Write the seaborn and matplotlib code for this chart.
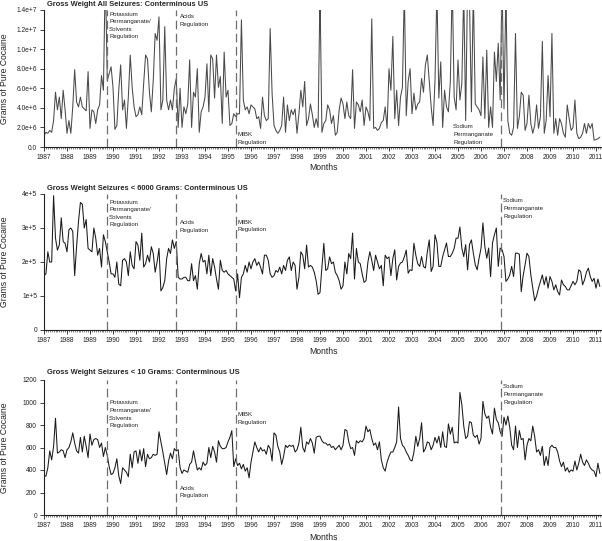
"""Monthly grams of pure cocaine seized, conterminous US, 1987-2011 (3 panels)."""
import matplotlib

matplotlib.use("Agg")
import matplotlib.pyplot as plt
import numpy as np
import pandas as pd
import seaborn as sns
from matplotlib.ticker import FixedLocator, MultipleLocator

# --- Data (monthly from Jan 1987) -------------------------------------------
ALL_SEIZURES_M = [  # millions of grams; values > 14 are clipped spikes
    1.2, 1.5, 1.4, 1.7, 1.5, 2.7, 5.6, 3.8, 5.1, 2.9, 5.8, 3.8,
    1.4, 2.7, 1.4, 4.1, 7.9, 4.6, 4.1, 5.1, 4.1, 3.9, 3.7, 7.7,
    1.9, 3.8, 3.6, 2.4, 3.8, 4.3, 7.3, 5.8, 18.0, 6.8, 7.5, 8.2,
    6.1, 1.8, 2.2, 5.8, 8.4, 3.8, 4.8, 1.9, 5.1, 9.4, 6.1, 4.1,
    3.1, 3.3, 4.1, 3.3, 6.5, 9.4, 9.0, 5.6, 3.6, 6.8, 11.6, 10.9,
    13.3, 3.8, 4.8, 12.3, 4.8, 3.8, 4.8, 3.8, 6.0, 7.0, 2.0, 6.0,
    2.0, 4.1, 3.4, 4.4, 8.9, 2.0, 5.6, 5.1, 8.0, 1.5, 3.6, 4.1,
    5.1, 8.5, 3.6, 9.4, 9.0, 5.0, 9.4, 6.1, 7.2, 2.4, 9.7, 5.1,
    5.8, 2.2, 2.4, 3.4, 3.1, 3.4, 3.4, 13.0, 4.8, 3.8, 4.1, 3.4,
    4.3, 4.1, 3.9, 2.9, 3.1, 1.9, 5.1, 3.2, 2.7, 2.9, 12.1, 5.5,
    2.2, 1.7, 1.4, 1.7, 2.2, 5.1, 1.5, 4.3, 2.7, 3.8, 3.3, 3.9,
    1.4, 3.4, 5.8, 4.1, 6.7, 2.2, 2.9, 4.4, 3.3, 2.0, 2.9, 2.0,
    16.0, 1.5, 2.4, 2.7, 4.3, 3.8, 2.4, 3.2, 1.2, 1.5, 3.8, 5.0,
    4.4, 2.9, 4.6, 3.2, 2.9, 7.9, 1.9, 4.6, 4.3, 3.6, 4.8, 2.2,
    4.1, 3.6, 2.7, 13.1, 1.9, 2.0, 1.7, 1.9, 2.5, 2.7, 4.1, 1.9,
    8.0, 5.8, 11.3, 2.9, 5.8, 2.2, 5.1, 6.1, 16.0, 3.2, 6.7, 8.0,
    3.4, 5.5, 3.8, 4.4, 4.6, 7.0, 5.6, 8.4, 9.4, 6.8, 4.1, 2.2,
    6.8, 16.0, 5.0, 8.7, 2.0, 5.8, 4.1, 3.6, 6.7, 17.0, 5.1, 3.8,
    8.9, 4.8, 6.5, 16.0, 2.7, 17.0, 15.0, 3.6, 16.0, 4.4, 4.1, 3.8,
    3.2, 9.2, 2.9, 9.9, 2.0, 4.1, 2.0, 9.7, 6.7, 10.6, 4.8, 17.0,
    3.9, 16.0, 2.7, 1.4, 1.2, 2.0, 11.6, 1.9, 3.1, 5.6, 5.3, 1.7,
    2.4, 5.3, 2.4, 1.4, 2.2, 4.3, 1.9, 3.1, 10.8, 1.4, 2.7, 7.3,
    3.1, 11.6, 1.4, 2.9, 1.2, 2.9, 2.4, 1.4, 1.0, 4.3, 2.9, 1.7,
    2.0, 4.8, 1.4, 0.85, 1.0, 1.4, 2.4, 1.4, 2.4, 1.9, 2.4, 0.7,
    0.75, 0.85, 1.0,
]

UNDER_6000_K = [  # thousands of grams
    160, 165, 230, 200, 200, 395, 270, 235, 250, 330, 260, 255,
    230, 295, 300, 290, 160, 245, 320, 375, 370, 300, 325, 240,
    235, 230, 300, 270, 220, 240, 185, 280, 260, 230, 200, 165,
    165, 155, 200, 135, 130, 205, 210, 200, 160, 230, 190, 180,
    260, 250, 205, 285, 185, 195, 220, 200, 245, 225, 170, 200,
    240, 115, 125, 145, 210, 240, 225, 265, 240, 260, 155, 150,
    150, 155, 155, 145, 145, 195, 145, 160, 120, 195, 225, 200,
    205, 165, 220, 160, 210, 185, 150, 120, 205, 175, 170, 175,
    165, 160, 155, 150, 115, 165, 95, 155, 165, 190, 170, 200,
    180, 200, 210, 190, 200, 185, 165, 220, 220, 205, 165, 155,
    160, 175, 170, 185, 165, 190, 175, 205, 215, 175, 200, 190,
    120, 155, 230, 220, 180, 250, 185, 190, 185, 170, 145, 105,
    110, 185, 255, 175, 180, 215, 195, 200, 170, 160, 145, 120,
    130, 200, 165, 225, 210, 285, 150, 240, 200, 195, 165, 140,
    145, 200, 230, 205, 175, 220, 200, 180, 190, 130, 220, 210,
    215, 160, 210, 236, 147, 187, 197, 200, 215, 235, 167, 177,
    175, 255, 220, 195, 187, 216, 187, 182, 230, 265, 172, 187,
    280, 258, 187, 187, 216, 236, 256, 216, 216, 226, 240, 270,
    270, 303, 241, 216, 251, 177, 251, 265, 226, 192, 177, 211,
    240, 315, 246, 211, 241, 157, 256, 280, 300, 187, 241, 236,
    216, 143, 150, 162, 187, 157, 226, 226, 223, 113, 160, 192,
    226, 216, 162, 123, 86, 100, 123, 143, 162, 133, 157, 123,
    157, 143, 118, 133, 113, 103, 147, 133, 128, 118, 118, 130,
    143, 133, 143, 177, 172, 133, 147, 170, 182, 157, 143, 152,
    123, 150, 128,
]

UNDER_10 = [  # grams
    350, 345, 420, 570, 490, 610, 860, 550, 560, 580, 570, 510,
    580, 600, 650, 730, 640, 570, 550, 690, 560, 700, 610, 510,
    720, 620, 670, 680, 670, 600, 640, 520, 600, 530, 430, 360,
    370, 420, 500, 350, 280, 420, 400, 380, 340, 540, 420, 560,
    570, 460, 580, 480, 590, 430, 540, 500, 510, 540, 530, 540,
    740, 650, 560, 460, 360, 480, 550, 500, 590, 570, 580, 420,
    370, 400, 390, 380, 450, 470, 570, 480, 400, 420, 400, 470,
    440, 460, 600, 510, 610, 560, 470, 660, 610, 590, 590, 600,
    650, 690, 750, 430, 500, 440, 460, 410, 450, 390, 420, 330,
    470, 560, 650, 600, 560, 600, 570, 580, 540, 620, 590, 480,
    730, 710, 610, 560, 450, 520, 620, 600, 620, 610, 620, 560,
    580, 640, 780, 600, 560, 650, 630, 680, 640, 550, 690, 700,
    700, 660, 640, 640, 620, 630, 600, 610, 580, 600, 620, 580,
    620, 760, 750, 650, 590, 600, 530, 660, 640, 660, 650, 680,
    790, 740, 760, 680, 620, 640, 580, 650, 490, 420, 390, 470,
    520, 560, 560, 600, 650, 960, 680, 620, 600, 560, 530, 490,
    480, 560, 700, 610, 680, 820, 560, 590, 650, 640, 580, 620,
    690, 640, 700, 600, 740, 610, 600, 810, 720, 780, 640, 650,
    640, 1090, 980, 790, 680, 700, 830, 820, 710, 690, 710, 630,
    680, 1010, 900, 860, 880, 780, 720, 950, 850, 820, 740, 700,
    870, 800, 880, 780, 620, 580, 790, 600, 750, 670, 680, 490,
    620, 680, 660, 790, 700, 560, 580, 530, 610, 440, 520, 440,
    600, 620, 600, 600, 560, 480, 430, 470, 390, 420, 380, 400,
    390, 480, 400, 460, 540, 470, 440, 490, 460, 420, 400, 390,
    340, 460, 370,
]

YEARS = list(range(1987, 2012))
POLICY_DATES = [1989.75, 1992.75, 1995.33, 2006.87]

PANEL_TITLES = [
    "Gross Weight All Seizures: Conterminous US",
    "Gross Weight Seizures < 6000 Grams: Conterminous US",
    "Gross Weight Seizures < 10 Grams: Conterminous US",
]
Y_TICKS = [
    [0, 2e6, 4e6, 6e6, 8e6, 1e7, 1.2e7, 1.4e7],
    [0, 1e5, 2e5, 3e5, 4e5],
    [0, 200, 400, 600, 800, 1000, 1200],
]
Y_TICK_LABELS = [
    ["0.0", "2.0e+6", "4.0e+6", "6.0e+6", "8.0e+6", "1.0e+7", "1.2e+7", "1.4e+7"],
    ["0", "1e+5", "2e+5", "3e+5", "4e+5"],
    ["0", "200", "400", "600", "800", "1000", "1200"],
]

# annotation text per panel: (x px, y px of first line, lines)
POT = ["Potassium", "Permanganate/", "Solvents", "Regulation"]
ACI = ["Acids", "Regulation"]
MIB = ["MIBK", "Regulation"]
SOD = ["Sodium", "Permanganate", "Regulation"]
NOTES = [
    [(109, 14, POT), (180, 17, ACI), (238, 135, MIB), (453, 127, SOD)],
    [(109, 202, POT), (180, 223, ACI), (238, 222, MIB), (503, 201, SOD)],
    [(109, 403, POT), (180, 488, ACI), (238, 415, MIB), (503, 387, SOD)],
]

# --- Figure ----------------------------------------------------------------
W, H = 602, 541
sns.set_style("ticks")
plt.rcParams["font.family"] = ["Liberation Sans", "DejaVu Sans"]

months = np.arange(len(UNDER_10))
df = pd.DataFrame({
    "t": 1987 + months / 12,
    "all": np.array(ALL_SEIZURES_M) * 1e6,
    "lt6000": np.array(UNDER_6000_K) * 1e3,
    "lt10": UNDER_10,
})

fig = plt.figure(figsize=(W / 100, H / 100), dpi=100)
# axes boxes in pixels: (top, bottom)
boxes = [(10, 147), (194, 330), (380, 515)]
cols = ["all", "lt6000", "lt10"]
line_cols = ["#4a4a4a", "#1a1a1a", "#1a1a1a"]
title_y = [4, 188, 372]
months_y = [168, 352, 538]

x_left, x_right = 44, 602
x_max = 1987 + (x_right - x_left) / 23.0

for i in range(3):
    top, bot = boxes[i]
    ax = fig.add_axes([x_left / W, 1 - bot / H, (x_right - x_left) / W, (bot - top) / H])
    sns.lineplot(data=df, x="t", y=cols[i], ax=ax, color=line_cols[i],
                 linewidth=0.75, estimator=None)
    for d in POLICY_DATES:
        ax.axvline(d, color="#6e6e6e", lw=0.9, ls=(0, (7, 3.5)))
    ax.set_xlim(1987, x_max)
    ax.set_ylim(Y_TICKS[i][0], Y_TICKS[i][-1])
    ax.xaxis.set_major_locator(FixedLocator(YEARS))
    ax.xaxis.set_minor_locator(MultipleLocator(1 / 12))
    ax.set_xticklabels([str(y) for y in YEARS])
    ax.yaxis.set_major_locator(FixedLocator(Y_TICKS[i]))
    ax.set_yticklabels(Y_TICK_LABELS[i])
    ax.tick_params(axis="both", which="major", labelsize=4.8, length=3,
                   width=0.6, pad=2, colors="#222222")
    ax.tick_params(axis="x", which="minor", length=1.4, width=0.4)
    ax.set_xlabel("")
    ax.set_ylabel("")
    sns.despine(ax=ax)
    for s in ("left", "bottom"):
        ax.spines[s].set_linewidth(0.8)
        ax.spines[s].set_color("#222222")

    fig.text(47 / W, 1 - title_y[i] / H, PANEL_TITLES[i], fontsize=5.4,
             fontweight="bold", va="center", ha="left")
    fig.text(323 / W, 1 - months_y[i] / H, "Months", fontsize=6.2,
             va="center", ha="center", color="#222222")
    fig.text(5 / W, 1 - (top + bot) / 2 / H, "Grams of Pure Cocaine", fontsize=6.2,
             rotation=90, va="center", ha="center", color="#222222")
    for x, y, lines in NOTES[i]:
        for k, line in enumerate(lines):
            fig.text(x / W, 1 - (y + 7.6 * k) / H, line, fontsize=4.4,
                     va="center", ha="left", color="#222222")

fig.savefig("out.png", dpi=100, facecolor="white")
